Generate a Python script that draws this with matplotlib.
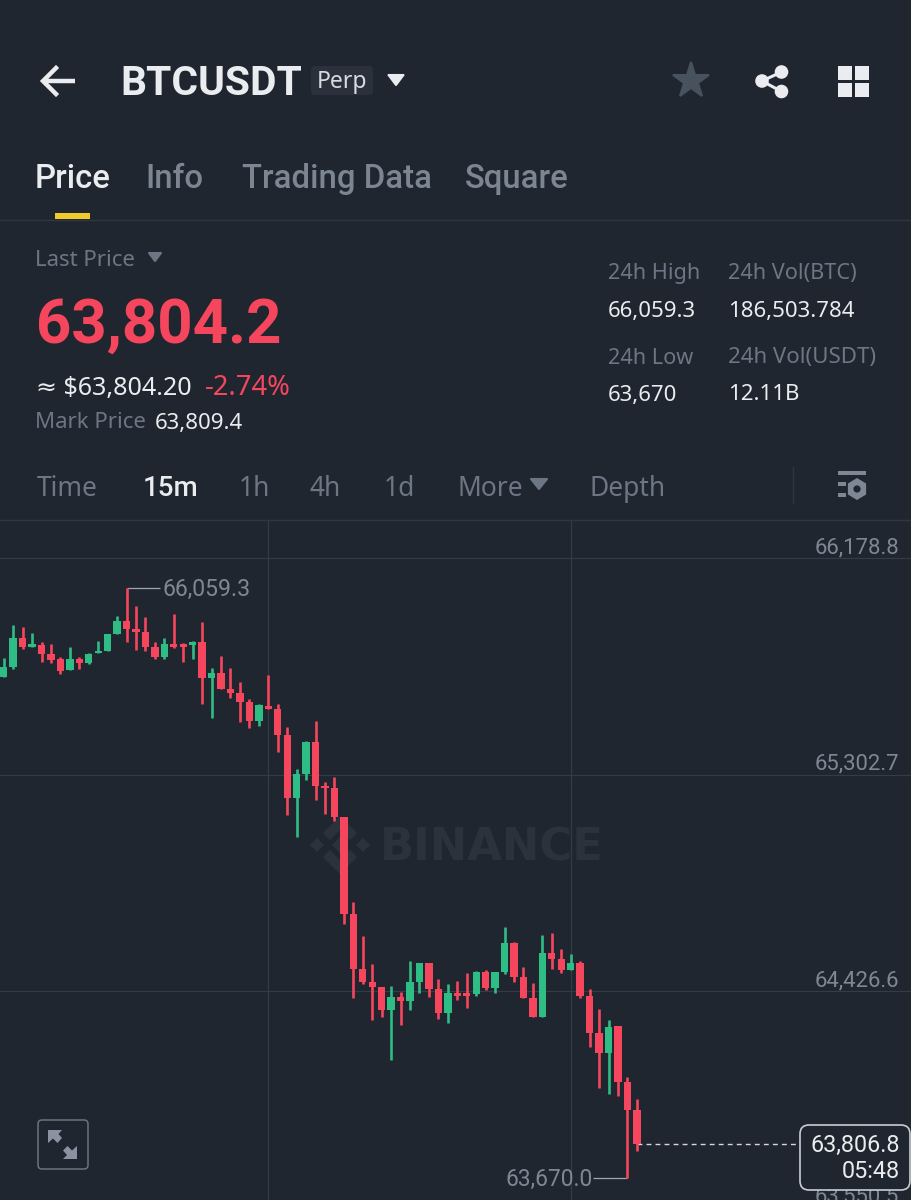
#!/usr/bin/env python3
# -*- coding: utf-8 -*-
import numpy as np
import matplotlib
matplotlib.use('Agg')
import matplotlib.pyplot as plt
from matplotlib.patches import Polygon, Rectangle, FancyBboxPatch, Circle

###############################################################################
# candle data (15m)
###############################################################################
highs = [65773, 65908, 65901, 65874, 65838, 65831, 65777, 65819, 65777, 65793, 65842, 65871,
         65945, 66059.3, 65985, 65941, 65838, 65856, 65951, 65836, 65844, 65921, 65733, 65782,
         65733, 65678, 65608, 65588, 65705, 65587, 65494, 65324, 65440, 65519, 65274, 65294,
         65132, 64788, 64649, 64536, 64442, 64448, 64424, 64548, 64539, 64539, 64474, 64455,
         64469, 64498, 64509, 64510, 64505, 64685, 64626, 64525, 64460, 64653, 64660, 64595,
         64576, 64549, 64434, 64354, 64309, 64284, 64078, 63989]
body_top = [65739, 65856, 65856, 65831, 65827, 65790, 65770, 65769, 65770, 65790, 65803, 65870,
            65925, 65925, 65893, 65881, 65820, 65831, 65831, 65831, 65840, 65839, 65715, 65715,
            65648, 65634, 65595, 65583, 65581, 65568, 65464, 65304, 65436, 65436, 65256, 65247,
            65132, 64737, 64515, 64464, 64442, 64402, 64402, 64463, 64539, 64539, 64435, 64419,
            64419, 64418, 64505, 64505, 64505, 64622, 64622, 64482, 64398, 64582, 64582, 64555,
            64539, 64539, 64408, 64256, 64282, 64284, 64057, 63945]
body_bot = [65698, 65736, 65817, 65820, 65789, 65766, 65723, 65726, 65754, 65755, 65793, 65804,
            65870, 65893, 65881, 65820, 65780, 65780, 65819, 65820, 65826, 65692, 65692, 65648,
            65634, 65595, 65519, 65519, 65568, 65464, 65207, 65207, 65304, 65256, 65247, 65132,
            64737, 64515, 64464, 64443, 64350, 64350, 64388, 64388, 64463, 64435, 64339, 64339,
            64407, 64405, 64413, 64439, 64439, 64502, 64482, 64400, 64320, 64320, 64555, 64512,
            64512, 64408, 64256, 64175, 64175, 64057, 63945, 63806.8]
lows = [65698, 65730, 65809, 65820, 65757, 65753, 65708, 65726, 65729, 65749, 65793, 65803,
        65870, 65840, 65807, 65803, 65769, 65769, 65815, 65759, 65769, 65590, 65533, 65648,
        65611, 65517, 65490, 65499, 65568, 65393, 65139, 65049, 65281, 65201, 65142, 65115,
        64699, 64400, 64455, 64309, 64320, 64148, 64288, 64349, 64420, 64401, 64315, 64299,
        64390, 64357, 64407, 64431, 64418, 64494, 64464, 64400, 64320, 64320, 64515, 64498,
        64512, 64398, 64199, 64035, 64009, 64003, 63670.0, 63779]
green_idx = [0, 1, 3, 7, 9, 10, 11, 12, 17, 20, 22, 27, 31, 32, 41, 43, 44, 47, 50, 52, 53, 57, 60, 64]

price_ticks = [66178.8, 65302.7, 64426.6, 63550.5]
vgrid_idx = [28, 60]
last_price = 63806.8
day_high = 66059.3
day_low = 63670.0

tabs = ['Price', 'Info', 'Trading Data', 'Square']
intervals = ['Time', '15m', '1h', '4h', '1d', 'More', 'Depth']

###############################################################################
BG = '#1f2630'
RED = '#f6465d'
GREEN = '#2ebd85'
WHITE = '#eaecef'
GRAY = '#7c8592'
DIM = '#6d7684'
AXIS_GRAY = '#7f8794'
LINE = '#2f3640'
UI_FONT = ['Noto Sans', 'DejaVu Sans']
HEAVY_FONT = ['Roboto', 'DejaVu Sans']
NUM_FONT = ['Roboto', 'DejaVu Sans']

W, H = 911, 1200
CHART_TOP = 520
X0, DX = 3.7, 9.45  # px of first candle, px per candle
PX_PER_PRICE = 216.5 / 876.1


def px_x(px):
    return (px - X0) / DX


fig = plt.figure(figsize=(W / 100, H / 100), dpi=100, facecolor=BG)

# background layer, watermark sits under the candles
bg = fig.add_axes([0, 0, 1, 1], zorder=0)
bg.set_xlim(0, W)
bg.set_ylim(H, 0)
bg.axis('off')

WM = '#2b323c'
cx, cy = 340, 845
for sign in (-1, 1):
    bg.add_patch(Polygon([(cx, cy + sign * 29), (cx + 17, cy + sign * 12), (cx + 10, cy + sign * 5),
                          (cx, cy + sign * 15), (cx - 10, cy + sign * 5), (cx - 17, cy + sign * 12)],
                         fc=WM, ec='none'))
    bg.add_patch(Polygon([(cx + sign * 30, cy), (cx + sign * 23, cy - 7), (cx + sign * 16, cy),
                          (cx + sign * 23, cy + 7)], fc=WM, ec='none'))
bg.add_patch(Polygon([(cx, cy - 8), (cx + 8, cy), (cx, cy + 8), (cx - 8, cy)], fc=WM, ec='none'))
bg.text(380, 848, 'BINANCE', color=WM, fontsize=32.2, fontweight='bold', family='DejaVu Sans',
        va='center', ha='left')

###############################################################################
# chart
###############################################################################
ax = fig.add_axes([0, 0, 1, (H - CHART_TOP) / H], zorder=1)
ax.patch.set_alpha(0)
for s in ax.spines.values():
    s.set_visible(False)
ax.set_yticks(price_ticks)
ax.set_xticks(vgrid_idx)
ax.tick_params(length=0, labelleft=False, labelbottom=False)
ax.grid(True, color='#353c46', lw=0.8)
ax.set_axisbelow(True)
# limits after the ticks, the lowest tick lies just below the picture
ax.set_xlim(px_x(0), px_x(W))
ax.set_ylim(price_ticks[0] - (H - 558) / PX_PER_PRICE, price_ticks[0] + (558 - CHART_TOP) / PX_PER_PRICE)

idx = np.arange(len(highs))
top = np.array(body_top)
bot = np.array(body_bot)
colors = [GREEN if i in green_idx else RED for i in idx]
ax.vlines(idx, lows, highs, colors=colors, lw=1.9, zorder=3)
ax.bar(idx, np.maximum(top - bot, 8), bottom=bot, width=0.78, color=colors, zorder=3)

for p in price_ticks:
    ax.text(px_x(899.5), p + 10.5 / PX_PER_PRICE, f'{p:,.1f}', color=AXIS_GRAY, fontsize=15.9, family=NUM_FONT,
            ha='right', va='center', clip_on=False)

# high / low callouts
i_hi = highs.index(day_high)
i_lo = lows.index(day_low)
ax.hlines(day_high, i_hi, px_x(160), color='#a0a6b0', lw=0.9, zorder=2)
ax.text(px_x(162), day_high - 1.5 / PX_PER_PRICE, f'{day_high:,.1f}', color=AXIS_GRAY, fontsize=16.6, family=NUM_FONT,
        ha='left', va='center')
ax.hlines(day_low, px_x(593), i_lo, color='#a0a6b0', lw=0.9, zorder=2)
ax.text(px_x(593), day_low - 1.5 / PX_PER_PRICE, f'{day_low:,.1f}', color=AXIS_GRAY, fontsize=16.4, family=NUM_FONT,
        ha='right', va='center')

# last price dashed line
ax.hlines(last_price, len(highs) - 1, px_x(797), color='#d5d8dc', lw=1.0, linestyles=(0, (3.5, 3)), zorder=2)

###############################################################################
# app chrome, in pixel coordinates
###############################################################################
ui = fig.add_axes([0, 0, 1, 1], zorder=2)
ui.patch.set_alpha(0)
ui.set_xlim(0, W)
ui.set_ylim(H, 0)
ui.axis('off')


def txt(x, y, s, color=GRAY, size=16, weight='normal', ha='left', family=UI_FONT):
    ui.text(x, y, s, color=color, fontsize=size, fontweight=weight, ha=ha, va='center', family=family)


def tri(x, y, w, h, color):
    ui.add_patch(Polygon([(x - w / 2, y - h / 2), (x + w / 2, y - h / 2), (x, y + h / 2)],
                         fc=color, ec=color, lw=1.5, joinstyle='round'))


# back arrow
ui.plot([43, 75], [81, 81], color=WHITE, lw=3.2, solid_capstyle='butt')
ui.plot([56, 43, 56], [68, 81, 94], color=WHITE, lw=3.2, solid_joinstyle='miter')

txt(120, 84, 'BTCUSDT', WHITE, 29.3, 'bold', family=HEAVY_FONT)
ui.add_patch(FancyBboxPatch((311, 66), 62, 29, boxstyle='round,pad=0,rounding_size=4', fc='#2a313c', ec='none'))
txt(342, 82, 'Perp', '#d8dbe0', 16.5, ha='center')
tri(396, 80, 15, 10, WHITE)

# star / share / grid icons
ui.plot([691], [81], marker='*', ms=27, color='#48525f', mec='#48525f', mew=1.5)
ui.plot([781.5, 762, 781.5], [72, 81, 91.5], color=WHITE, lw=2.2)
for (a, b) in [(781.5, 72), (762, 81), (781.5, 91.5)]:
    ui.add_patch(Circle((a, b), 6.8, fc=WHITE, ec='none'))
for a in (838, 855):
    for b in (66, 83):
        ui.add_patch(Rectangle((a, b), 14, 14, fc=WHITE, ec='none'))

# tabs
tab_x = [35, 145, 242, 465]
for name, x in zip(tabs, tab_x):
    active = name == 'Price'
    txt(x, 179, name, WHITE if active else GRAY, 23.7, 'medium', family=HEAVY_FONT)
ui.add_patch(Rectangle((55, 213), 35, 6, fc='#f0c92c', ec='none'))
ui.plot([0, W], [220, 220], color=LINE, lw=1)

# price block
txt(35, 260, 'Last Price', DIM, 16)
tri(155, 257, 12, 8, DIM)
txt(36, 326, '63,804.2', RED, 44.5, 'bold', family=HEAVY_FONT)
txt(36, 388, '≈ $63,804.20', WHITE, 18.1)
txt(205, 388, '-2.74%', RED, 19.7)
txt(35, 423, 'Mark Price', DIM, 16)
txt(155, 423, '63,809.4', WHITE, 16)

# 24h stats
txt(608, 274, '24h High', DIM, 15.6)
txt(608, 312, '66,059.3', WHITE, 16)
txt(608, 358, '24h Low', DIM, 15.6)
txt(608, 395, '63,670', WHITE, 16)
txt(728, 274, '24h Vol(BTC)', DIM, 15.6)
txt(728, 312, '186,503.784', WHITE, 16)
txt(728, 358, '24h Vol(USDT)', DIM, 16)
txt(728, 395, '12.11B', WHITE, 16)

# interval row
int_x = [37, 143, 239, 310, 384, 457, 590]
for name, x in zip(intervals, int_x):
    active = name == '15m'
    if active:
        txt(x, 488, name, WHITE, 20, 'medium', family=HEAVY_FONT)
    else:
        txt(x, 489, name, DIM, 19)
tri(539, 484, 16, 10, DIM)
ui.plot([793, 793], [467, 503], color=LINE, lw=1)
ui.plot([0, W], [519.5, 519.5], color=LINE, lw=1)

# chart settings icon
ui.add_patch(Rectangle((838, 471), 28, 4, fc=AXIS_GRAY, ec='none'))
ui.add_patch(Rectangle((838, 482), 8, 4, fc=AXIS_GRAY, ec='none'))
ui.add_patch(Rectangle((838, 493), 8, 4, fc=AXIS_GRAY, ec='none'))
ang = np.deg2rad(np.arange(30, 390, 60))
ui.add_patch(Polygon(np.c_[857 + 10.5 * np.cos(ang), 489 + 11 * np.sin(ang)], fc=AXIS_GRAY, ec='none'))
ui.add_patch(Circle((857, 489), 3.6, fc=BG, ec='none'))

# expand button
ui.add_patch(FancyBboxPatch((38, 1120), 50, 49, boxstyle='round,pad=0,rounding_size=4', fc='none',
                            ec='#6b7380', lw=1.1))
ARR = '#8b93a3'
ui.add_patch(Polygon([(48, 1130), (62, 1130), (58.5, 1134), (62, 1138), (57.5, 1143), (53, 1138.5), (48, 1143)],
                     fc=ARR, ec='none'))
ui.add_patch(Polygon([(77, 1159), (63, 1159), (67, 1155), (63, 1150.5), (67.5, 1146), (72, 1150.5), (77, 1146)],
                     fc=ARR, ec='none'))

# last price box
ui.add_patch(FancyBboxPatch((800, 1125), 110, 65, boxstyle='round,pad=0,rounding_size=9', fc=BG,
                            ec='#c8cdd3', lw=1.2))
txt(899.5, 1145, f'{last_price:,.1f}', WHITE, 16.8, ha='right', family=NUM_FONT)
txt(899.5, 1171, '05:48', WHITE, 16.8, ha='right', family=NUM_FONT)

plt.savefig('out.png', dpi=100, facecolor=BG)
